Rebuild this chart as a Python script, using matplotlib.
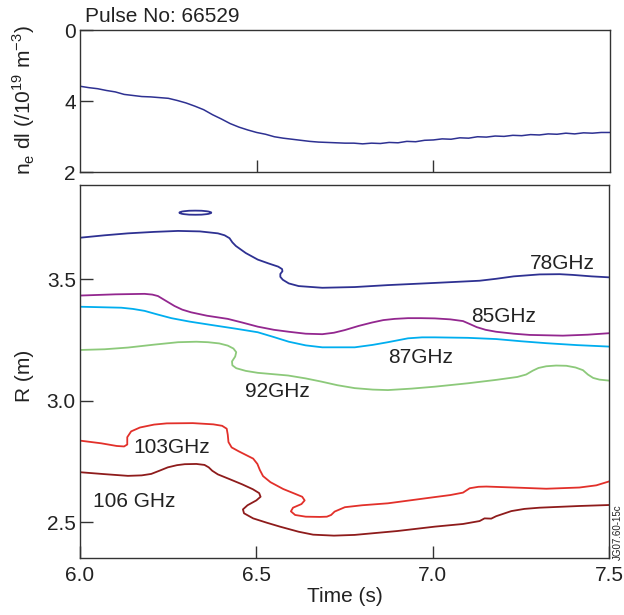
import matplotlib
matplotlib.use("Agg")
import matplotlib.pyplot as plt
from matplotlib.patches import Ellipse

plt.rcParams['font.family'] = ['Liberation Sans', 'DejaVu Sans']

# ---- top panel: line-integrated density ----
ne_t = [6.000, 6.025, 6.050, 6.075, 6.100, 6.125, 6.150, 6.175, 6.200, 6.225,
        6.250, 6.275, 6.300, 6.325, 6.350, 6.375, 6.400, 6.425, 6.450, 6.475,
        6.500, 6.525, 6.550, 6.575, 6.600, 6.625, 6.650, 6.675, 6.700, 6.725,
        6.750, 6.775, 6.800, 6.825, 6.850, 6.875, 6.900, 6.925, 6.950, 6.975,
        7.000, 7.025, 7.050, 7.075, 7.100, 7.125, 7.150, 7.175, 7.200, 7.225,
        7.250, 7.275, 7.300, 7.325, 7.350, 7.375, 7.400, 7.425, 7.450, 7.475, 7.500]
ne_v = [4.42, 4.38, 4.35, 4.30, 4.26, 4.19, 4.16, 4.13, 4.12, 4.10,
        4.08, 4.02, 3.95, 3.86, 3.76, 3.62, 3.50, 3.37, 3.27, 3.19,
        3.12, 3.07, 3.00, 2.96, 2.93, 2.90, 2.87, 2.85, 2.84, 2.83,
        2.82, 2.82, 2.80, 2.82, 2.81, 2.84, 2.83, 2.87, 2.86, 2.90,
        2.91, 2.94, 2.93, 2.97, 2.96, 3.00, 2.99, 3.02, 3.01, 3.04,
        3.03, 3.06, 3.05, 3.08, 3.07, 3.10, 3.08, 3.11, 3.10, 3.12, 3.12]
ne_ticks = [2, 4, 6]
ne_ticklabels = ["2", "4", "0"]

# ---- bottom panel: cutoff layer radii ----
t78 = [6.000, 6.070, 6.136, 6.210, 6.278, 6.340, 6.391, 6.410, 6.424, 6.432,
       6.442, 6.470, 6.504, 6.535, 6.562, 6.573, 6.574, 6.568, 6.568, 6.575,
       6.592, 6.620, 6.687, 6.779, 6.873, 7.006, 7.133, 7.180, 7.230, 7.303,
       7.360, 7.397, 7.450, 7.500]
r78 = [3.671, 3.681, 3.689, 3.695, 3.699, 3.697, 3.689, 3.681, 3.669, 3.652,
       3.637, 3.608, 3.581, 3.565, 3.552, 3.542, 3.533, 3.522, 3.510, 3.498,
       3.483, 3.472, 3.465, 3.468, 3.476, 3.485, 3.494, 3.502, 3.512, 3.520,
       3.521, 3.518, 3.512, 3.508]
loop78_center = (6.327, 3.774)
loop78_size = (0.090, 0.017)

t85 = [6.000, 6.100, 6.183, 6.205, 6.221, 6.245, 6.268, 6.290, 6.315, 6.360,
       6.419, 6.460, 6.504, 6.550, 6.592, 6.640, 6.687, 6.720, 6.751, 6.790,
       6.828, 6.860, 6.892, 6.930, 6.967, 7.006, 7.050, 7.086, 7.105, 7.125,
       7.150, 7.180, 7.230, 7.275, 7.369, 7.440, 7.500]
r85 = [3.433, 3.438, 3.440, 3.437, 3.431, 3.410, 3.390, 3.375, 3.364, 3.350,
       3.337, 3.322, 3.305, 3.292, 3.284, 3.276, 3.274, 3.280, 3.291, 3.308,
       3.322, 3.332, 3.337, 3.340, 3.340, 3.339, 3.335, 3.328, 3.316, 3.303,
       3.292, 3.284, 3.276, 3.271, 3.268, 3.272, 3.278]

t87 = [6.000, 6.117, 6.150, 6.183, 6.220, 6.259, 6.310, 6.372, 6.440, 6.504,
       6.550, 6.592, 6.640, 6.687, 6.779, 6.830, 6.873, 6.930, 6.970, 7.006,
       7.100, 7.180, 7.250, 7.322, 7.410, 7.500]
r87 = [3.387, 3.383, 3.378, 3.370, 3.355, 3.340, 3.326, 3.312, 3.297, 3.282,
       3.262, 3.243, 3.228, 3.220, 3.220, 3.230, 3.241, 3.257, 3.261, 3.261,
       3.259, 3.254, 3.245, 3.237, 3.229, 3.223]

t92 = [6.000, 6.070, 6.136, 6.210, 6.278, 6.330, 6.363, 6.395, 6.419, 6.435,
       6.443, 6.440, 6.431, 6.432, 6.443, 6.470, 6.504, 6.590, 6.640, 6.684,
       6.730, 6.779, 6.830, 6.873, 6.940, 7.006, 7.100, 7.180, 7.240, 7.265,
       7.284, 7.300, 7.322, 7.350, 7.379, 7.405, 7.426, 7.440, 7.455, 7.473, 7.500]
r92 = [3.209, 3.212, 3.219, 3.231, 3.241, 3.243, 3.241, 3.236, 3.227, 3.215,
       3.200, 3.182, 3.162, 3.146, 3.134, 3.123, 3.115, 3.104, 3.092, 3.079,
       3.064, 3.052, 3.046, 3.044, 3.050, 3.058, 3.072, 3.086, 3.098, 3.108,
       3.124, 3.135, 3.142, 3.145, 3.144, 3.137, 3.126, 3.108, 3.094, 3.087, 3.083]

t103 = [6.000, 6.060, 6.104, 6.125, 6.134, 6.134, 6.145, 6.170, 6.210, 6.246,
        6.320, 6.378, 6.403, 6.416, 6.419, 6.421, 6.430, 6.450, 6.491, 6.503,
        6.510, 6.519, 6.540, 6.576, 6.610, 6.630, 6.637, 6.628, 6.604, 6.598,
        6.610, 6.640, 6.680, 6.700, 6.712, 6.722, 6.751, 6.800, 6.873, 6.992,
        7.050, 7.086, 7.105, 7.130, 7.152, 7.250, 7.322, 7.416, 7.464, 7.500]
r103 = [2.836, 2.825, 2.814, 2.812, 2.820, 2.850, 2.874, 2.890, 2.902, 2.907,
        2.908, 2.903, 2.897, 2.885, 2.860, 2.830, 2.808, 2.792, 2.762, 2.740,
        2.715, 2.690, 2.665, 2.637, 2.617, 2.605, 2.590, 2.575, 2.560, 2.545,
        2.530, 2.523, 2.522, 2.523, 2.530, 2.544, 2.562, 2.570, 2.578, 2.601,
        2.612, 2.622, 2.640, 2.646, 2.647, 2.642, 2.638, 2.643, 2.652, 2.668]

t106 = [6.000, 6.070, 6.136, 6.175, 6.202, 6.225, 6.249, 6.275, 6.297, 6.330,
        6.353, 6.365, 6.375, 6.391, 6.425, 6.460, 6.490, 6.508, 6.512, 6.500,
        6.475, 6.462, 6.465, 6.491, 6.530, 6.567, 6.620, 6.661, 6.720, 6.779,
        6.900, 7.006, 7.086, 7.133, 7.147, 7.166, 7.180, 7.223, 7.260, 7.303,
        7.416, 7.500]
r106 = [2.706, 2.698, 2.691, 2.693, 2.699, 2.712, 2.726, 2.735, 2.739, 2.740,
        2.736, 2.726, 2.712, 2.697, 2.677, 2.656, 2.636, 2.620, 2.605, 2.590,
        2.570, 2.553, 2.537, 2.516, 2.498, 2.482, 2.461, 2.449, 2.445, 2.448,
        2.464, 2.482, 2.493, 2.505, 2.516, 2.515, 2.525, 2.546, 2.555, 2.560,
        2.567, 2.571]

labels = ["78GHz", "85GHz", "87GHz", "92GHz", "103GHz", "106 GHz"]
label_t = [7.275, 7.108, 6.873, 6.467, 6.151, 6.036]
label_r = [3.541, 3.326, 3.157, 3.017, 2.784, 2.564]

c78, c85, c87, c92, c103, c106 = "#2e3192", "#93278f", "#00aeef", "#8cc97a", "#e2302a", "#8e1b1b"
spine_c = "#333333"
lw = 1.3
fs = 15

fig = plt.figure(figsize=(6.24, 6.15), dpi=100)
ax1 = fig.add_axes([0.1282, 0.7198, 0.8494, 0.2314])
ax2 = fig.add_axes([0.1282, 0.0927, 0.8478, 0.6065])

for ax in (ax1, ax2):
    for s in ax.spines.values():
        s.set_color(spine_c)
        s.set_linewidth(1.0)
    ax.tick_params(direction='in', length=9, width=1.0, color=spine_c,
                   labelsize=fs, labelcolor='#222222', top=False, right=False)

ax1.plot(ne_t, ne_v, color=c78, lw=1.1)
ax1.set_xlim(6.0, 7.5)
ax1.set_ylim(2, 6)
ax1.set_yticks(ne_ticks)
ax1.set_yticklabels(ne_ticklabels)
ax1.set_xticks([6.5, 7.0])
ax1.set_xticklabels([])
ax1.tick_params(axis='y', pad=3)

ax2.plot(t78, r78, color=c78, lw=lw, solid_joinstyle='round')
ax2.add_patch(Ellipse(loop78_center, loop78_size[0], loop78_size[1],
                      fill=False, edgecolor=c78, lw=lw))
for tt, rr, cc in ((t85, r85, c85), (t87, r87, c87), (t92, r92, c92),
                   (t103, r103, c103), (t106, r106, c106)):
    ax2.plot(tt, rr, color=cc, lw=lw, solid_joinstyle='round')
for lab, x, y in zip(labels, label_t, label_r):
    ax2.text(x, y, lab, fontsize=fs, color='#222222', ha='left', va='baseline')

ax2.set_xlim(6.0, 7.5)
ax2.set_ylim(2.353, 3.888)
ax2.set_xticks([6.0, 6.5, 7.0, 7.5])
ax2.set_xticklabels(["6.0", "6.5", "7.0", "7.5"])
ax2.set_yticks([2.5, 3.0, 3.5])
ax2.set_yticklabels(["2.5", "3.0", "3.5"])
ax2.tick_params(axis='x', pad=6)
ax2.tick_params(axis='y', pad=3)

fig.text(0.136, 1 - 22/615, "Pulse No: 66529", fontsize=fs, color='#222222',
         ha='left', va='baseline')
fig.text(24/624, 1 - 100/615, r"n$_\mathregular{e}$ dl (/10$^\mathregular{19}$ m$^\mathregular{-3}$)",
         fontsize=fs, color='#222222', rotation=90, ha='center', va='center')
fig.text(24/624, 1 - 376/615, "R (m)", fontsize=fs, color='#222222',
         rotation=90, ha='center', va='center')
fig.text(344.5/624, 1 - 597/615, "Time (s)", fontsize=fs, color='#222222',
         ha='center', va='center')
fig.text(618/624, 1 - 560/615, "JG07.60-15c", fontsize=7, color='#222222',
         rotation=90, ha='center', va='bottom')

fig.savefig("out.png", dpi=100)
